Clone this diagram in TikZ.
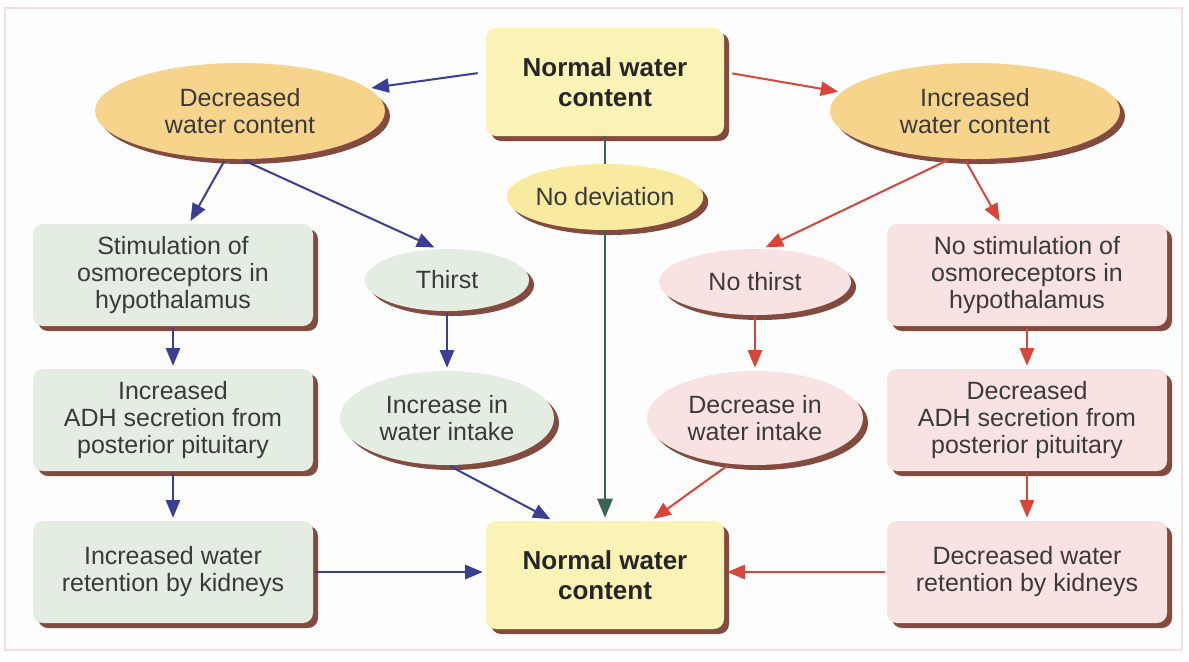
\documentclass[tikz,border=0pt]{standalone}
\usepackage{fontspec}
\setmainfont{Liberation Sans}
\usetikzlibrary{arrows,shapes.geometric,shadows}
\definecolor{textgray}{HTML}{3A3A3A}
\definecolor{arrowblue}{HTML}{3B3F94}
\definecolor{arrowred}{HTML}{D8453A}
\definecolor{linegreen}{HTML}{3C6456}
\definecolor{shadowbrown}{HTML}{6E2B1F}
\definecolor{boxyellow}{HTML}{FBF3B6}
\definecolor{ovalorange}{HTML}{F6D48C}
\definecolor{ovalyellow}{HTML}{F8EA9E}
\definecolor{boxgreen}{HTML}{E3EDE2}
\definecolor{boxpink}{HTML}{F9E2E2}
\definecolor{framepink}{HTML}{F4DEDE}
\definecolor{paper}{HTML}{FDFDFD}

\begin{document}
\begin{tikzpicture}[x=0.5pt,y=-0.5pt,
every node/.style={font=\fontsize{12.5}{13.5}\selectfont, text=textgray, align=center},
shade/.style={drop shadow={shadow xshift=2.5pt,shadow yshift=-2.5pt,fill=shadowbrown,opacity=.85}},
box/.style={shade, rectangle, rounded corners=5pt, minimum width=140pt, minimum height=51pt, inner sep=0pt},
topbox/.style={box, fill=boxyellow, minimum width=119pt, minimum height=54pt, font=\fontsize{13}{15}\selectfont\bfseries, text=black!85},
oval/.style={shade, ellipse, inner sep=0pt},
bluearr/.style={draw=arrowblue, line width=1pt, -triangle 45, shorten >=1.5pt, shorten <=1pt},
redarr/.style={draw=arrowred, line width=1pt, -triangle 45, shorten >=1.5pt, shorten <=1pt},
greenline/.style={draw=linegreen, line width=1.2pt}]
\useasboundingbox (0,0) rectangle (1189,661);
\fill[white] (0,0) rectangle (1189,661);
\draw[framepink, fill=paper, line width=1pt] (5,8) rectangle (1182,650);

% top and bottom
\node[topbox] (e) at (605,82) {Normal water\\content};
\node[topbox] (f) at (605,575) {Normal water\\content};
\node[oval, fill=ovalyellow, minimum width=96pt, minimum height=33pt] (2) at (605,197) {No deviation};

% decreased side
\node[oval, fill=ovalorange, minimum width=145pt, minimum height=48pt] (1) at (240,111) {Decreased\\water content};
\node[box, fill=boxgreen] (11) at (173,275) {Stimulation of\\osmoreceptors in\\hypothalamus};
\node[oval, fill=boxgreen, minimum width=82pt, minimum height=31pt] (12) at (447,280) {Thirst};
\node[box, fill=boxgreen] (111) at (173,420) {Increased\\ADH secretion from\\posterior pituitary};
\node[oval, fill=boxgreen, minimum width=107pt, minimum height=47pt] (121) at (447,418) {Increase in\\water intake};
\node[box, fill=boxgreen] (1111) at (173,572) {Increased water\\retention by kidneys};

% increased side
\node[oval, fill=ovalorange, minimum width=145pt, minimum height=48pt] (3) at (975,111) {Increased\\water content};
\node[oval, fill=boxpink, minimum width=96pt, minimum height=33pt] (31) at (755,282) {No thirst};
\node[box, fill=boxpink] (32) at (1027,275) {No stimulation of\\osmoreceptors in\\hypothalamus};
\node[oval, fill=boxpink, minimum width=108pt, minimum height=47pt] (311) at (755,418) {Decrease in\\water intake};
\node[box, fill=boxpink] (321) at (1027,420) {Decreased\\ADH secretion from\\posterior pituitary};
\node[box, fill=boxpink] (3211) at (1027,572) {Decreased water\\retention by kidneys};

%straight chains
\foreach \a/\b in {11/111,111/1111,12/121}
	\draw[bluearr] (\a) -- (\b);
\foreach \a/\b in {31/311,32/321,321/3211}
	\draw[redarr] (\a) -- (\b);

%branches
\draw[bluearr, shorten <=4pt] ([yshift=5pt]e.west) -- (1.10);
\draw[bluearr] (1.253) -- ([xshift=8pt]11.north);
\draw[bluearr] (1.272) -- ([xshift=-5pt]12.north);
\draw[bluearr] (121.272) -- ([xshift=-26pt]f.north);
\draw[bluearr] (1111.east) -- (1111.east -| f.west);
\draw[redarr, shorten <=4pt] ([yshift=5pt]e.east) -- (3.172);
\draw[redarr] (3.243) -- ([xshift=4pt]31.north);
\draw[redarr] (3.258) -- ([xshift=-13pt]32.north);
\draw[redarr] (311.241) -- ([xshift=23pt]f.north);
\draw[redarr] (3211.west) -- (3211.west -| f.east);

%no deviation
\draw[greenline] (e) -- (2);
\draw[greenline, -triangle 45, shorten >=1.5pt] (2) -- (f);
\end{tikzpicture}
\end{document}
